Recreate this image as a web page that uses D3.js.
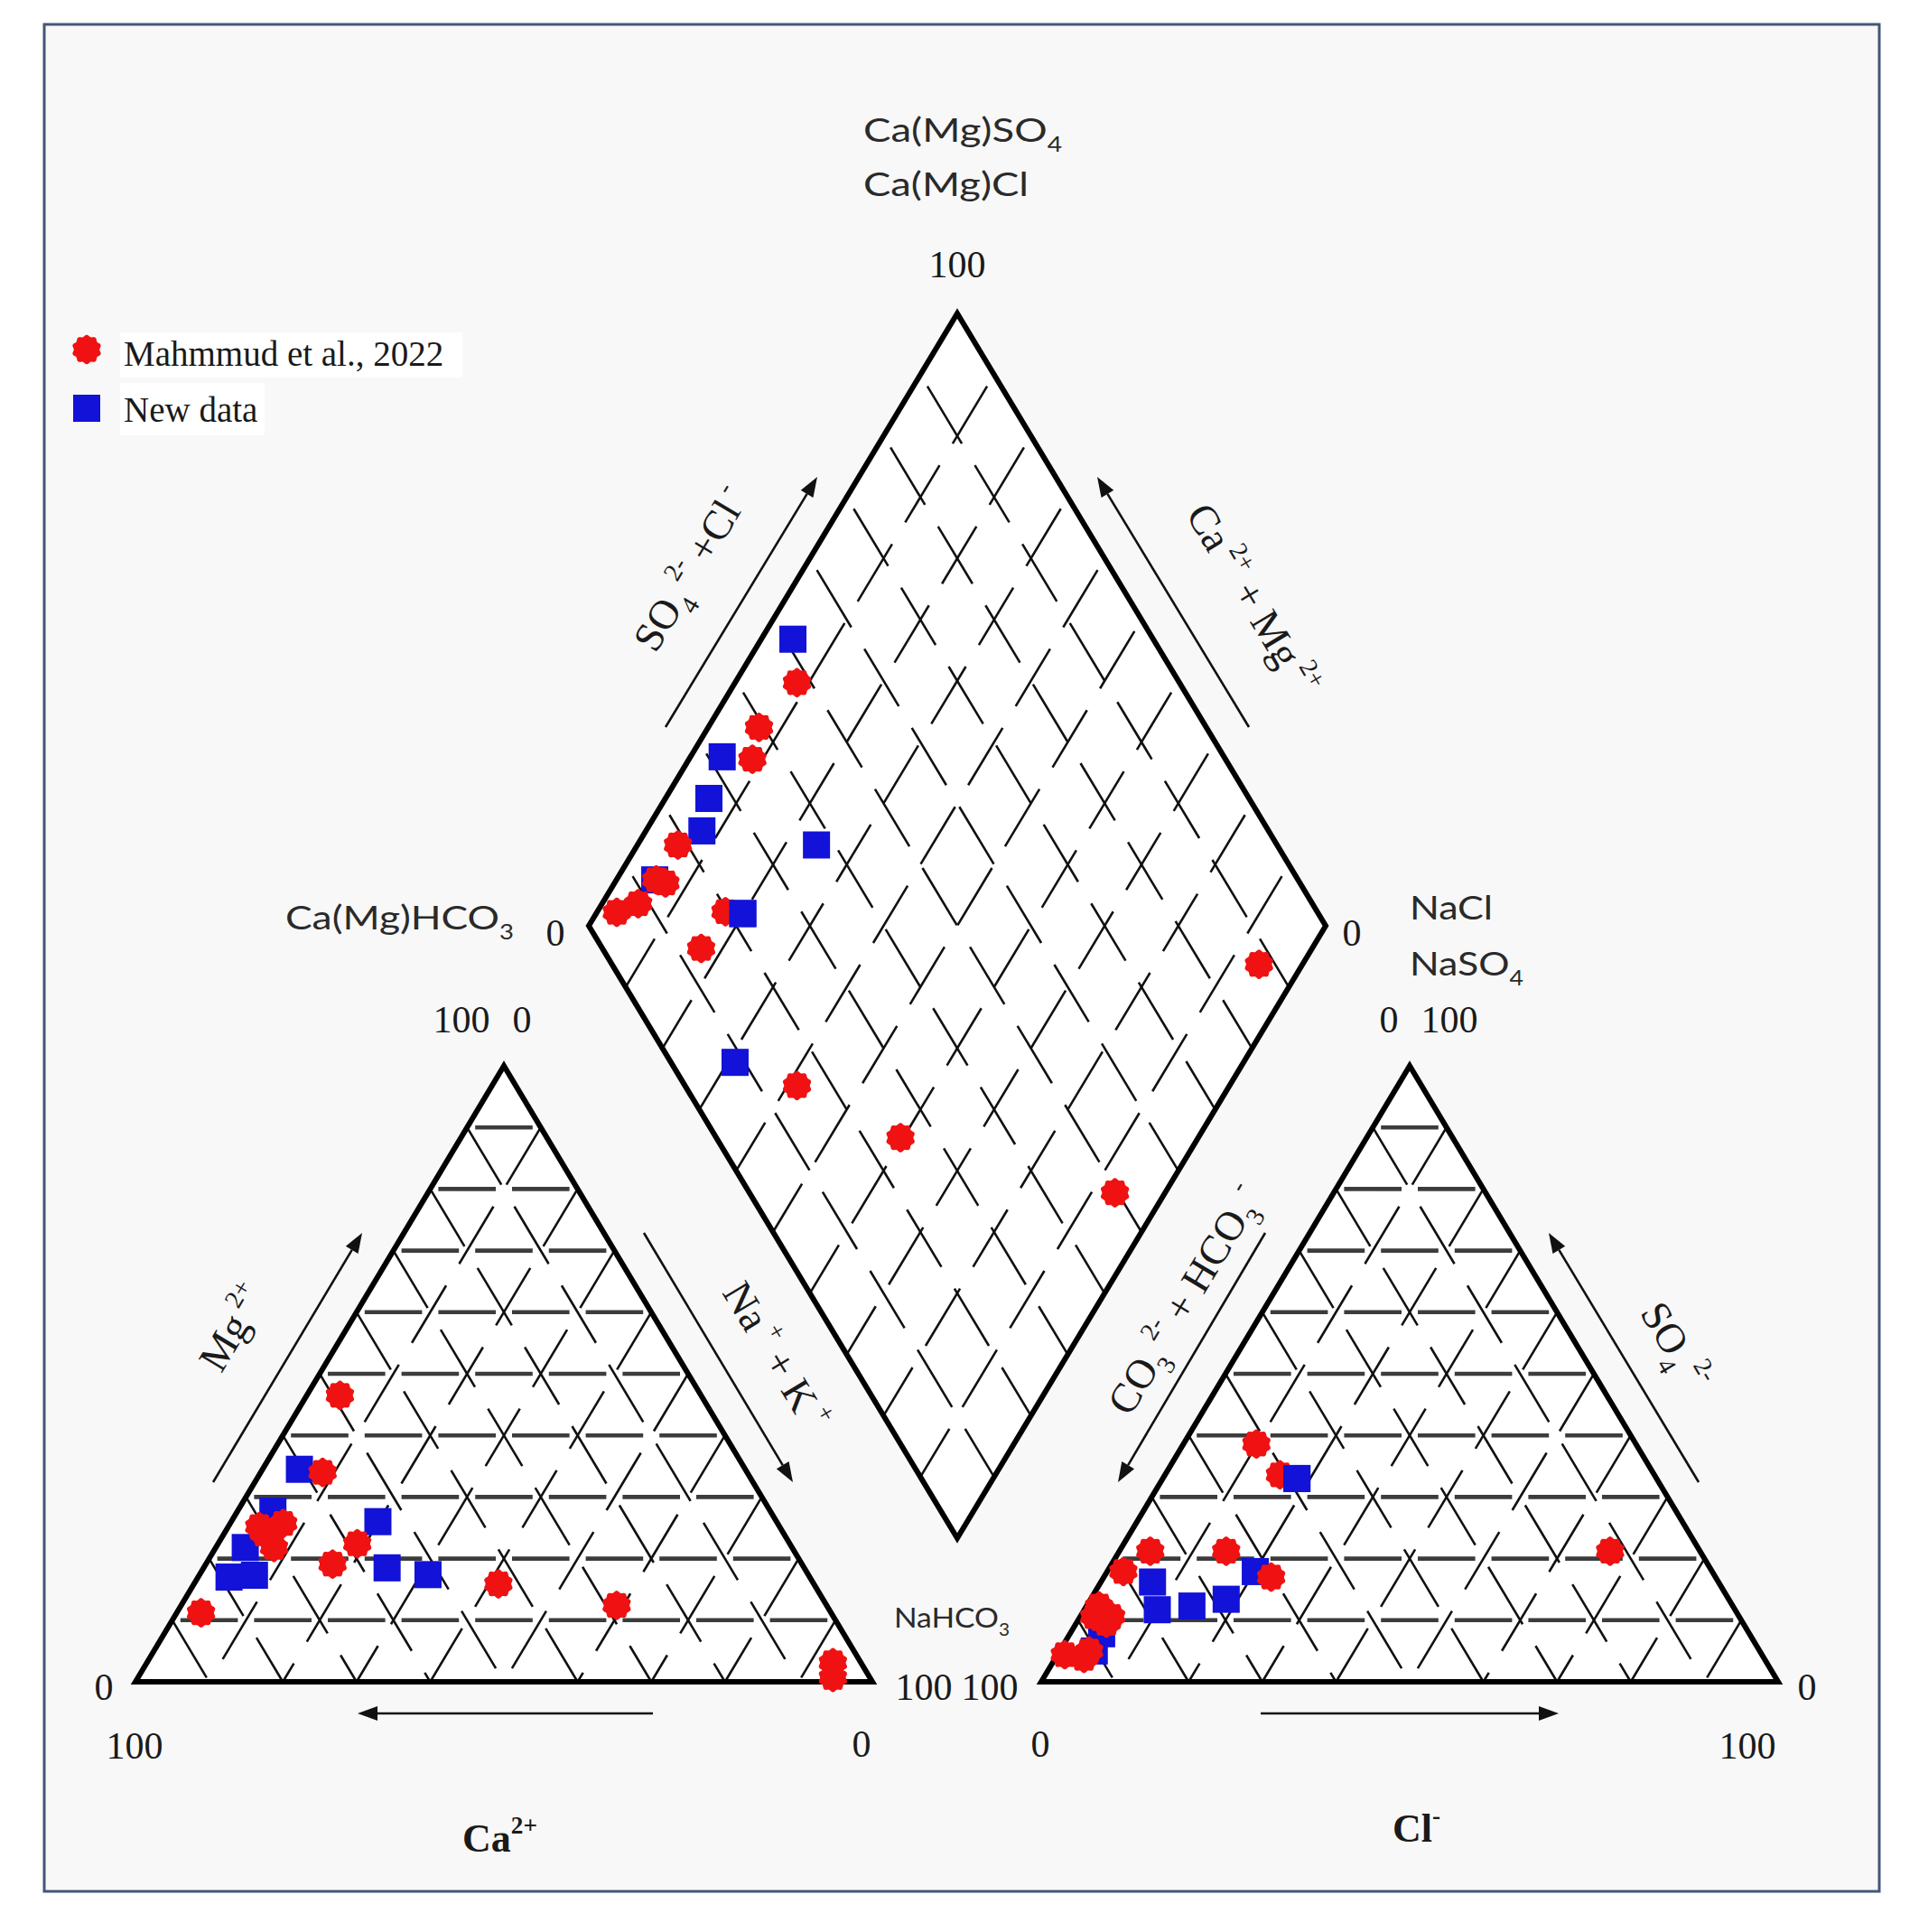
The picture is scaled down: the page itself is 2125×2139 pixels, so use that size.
<!DOCTYPE html>
<html><head><meta charset="utf-8">
<script src="https://cdn.jsdelivr.net/npm/d3@7"></script>
<style>
html,body{margin:0;padding:0;background:#fff;}
svg{display:block;}
</style></head>
<body>
<svg id="chart" width="2125" height="2139"></svg>
<script>
// ================= DATA =================
const seriesNames = ["Mahmmud et al., 2022", "New data"];
const seriesColors = ["#f01212", "#1212d8"];
const gridTicks = [10, 20, 30, 40, 50, 60, 70, 80, 90];

// Cation triangle: [Ca2+, Mg2+, Na+ + K+]  (% meq/L)
const cationsMahmmud = [
  [49.0, 46.5, 4.5], [57.6, 34.0, 8.4], [70.6, 25.2, 4.2], [67.1, 25.7, 7.2],
  [70.3, 21.8, 7.9], [70.5, 24.0, 5.5], [58.7, 22.4, 18.9], [63.7, 19.1, 17.2],
  [42.8, 15.9, 41.3], [28.5, 12.4, 59.1], [85.5, 11.2, 3.3], [3.8, 3.1, 93.1],
  [5.0, 0.7, 94.3]
];
const cationsNew = [
  [60.5, 34.5, 5.0], [67.5, 27.7, 4.8], [54.1, 26.0, 19.9], [74.2, 21.8, 4.0],
  [78.8, 17.0, 4.2], [75.2, 17.3, 7.5], [56.6, 18.5, 24.9], [51.6, 17.4, 31.0]
];

// Anion triangle: [CO3 2- + HCO3-, SO4 2-, Cl-]  (% meq/L)
const anionsMahmmud = [
  [51.5, 38.6, 9.9], [50.8, 33.6, 15.6], [74.6, 21.2, 4.2], [64.3, 21.2, 14.5],
  [79.9, 17.9, 2.2], [60.3, 17.0, 22.7], [12.2, 21.2, 66.6], [86.0, 12.3, 1.7],
  [85.2, 10.6, 4.2], [87.5, 10.6, 1.9], [86.4, 9.5, 4.1], [94.6, 4.4, 1.0],
  [92.3, 3.8, 3.9], [91.0, 5.0, 4.0]
];
const anionsNew = [
  [48.8, 33.0, 18.2], [76.8, 16.2, 7.0], [78.4, 11.7, 9.9], [73.4, 12.3, 14.3],
  [68.2, 13.4, 18.4], [62.0, 17.9, 20.1], [87.9, 7.8, 4.3], [90.3, 5.0, 4.7]
];

// Diamond: [Ca2+ + Mg2+, SO4 2- + Cl-]  (%)
const diamondMahmmud = [
  [91.6, 48.1], [93.1, 39.3], [91.4, 35.8], [94.5, 18.7], [94.6, 12.9], [93.1, 13.9],
  [97.3, 4.9], [95.1, 8.5], [82.9, 13.4], [82.6, 19.7], [58.7, 15.2], [40.4, 25.0],
  [6.8, 49.6], [5.9, 87.8]
];
const diamondNew = [
  [95.7, 51.1], [95.7, 31.9], [94.1, 26.7], [92.4, 23.1], [75.7, 37.5], [94.8, 12.7],
  [80.1, 21.9], [69.0, 8.7]
];
// indices of "New data" points that sit above the red ones in the picture
const anionsNewOnTop = [0];
const diamondNewOnTop = [6];

// ================= LAYOUT =================
const W = 2125, H = 2139;
const catTri = {BL: [150, 1862], BR: [966, 1862], T: [558, 1180]};
const anTri  = {BL: [1153, 1862], BR: [1969, 1862], T: [1561, 1180]};
const dia    = {T: [1060, 347], L: [652, 1025], R: [1468, 1025], B: [1060, 1703]};

const SERIF = "'Liberation Serif','Times New Roman',serif";
const SANS = "Lato,'Open Sans',sans-serif";

const svg = d3.select("#chart");
svg.append("rect").attr("width", W).attr("height", H).attr("fill", "#ffffff");
svg.append("rect").attr("x", 49).attr("y", 27).attr("width", 2032).attr("height", 2067)
  .attr("fill", "#f8f8f8").attr("stroke", "#44567a").attr("stroke-width", 3);

// ternary projection built from linear scales
function ternary(tri) {
  const yS = d3.scaleLinear().domain([0, 100]).range([tri.BL[1], tri.T[1]]);
  const xS = d3.scaleLinear().domain([0, 100]).range([0, tri.BR[0] - tri.BL[0]]);
  return (top, br) => [tri.BL[0] + xS(br) + xS(top) / 2, yS(top)];
}
const catPos = ternary(catTri);  // (Mg, NaK)
const anPos = ternary(anTri);    // (SO4, Cl)

const uS = d3.scaleLinear().domain([100, 0]).range([0, 1]); // SO4+Cl -> toward left vertex
const vS = d3.scaleLinear().domain([100, 0]).range([0, 1]); // Ca+Mg -> toward right vertex
function diaPos(caMg, so4Cl) {
  const u = uS(so4Cl), v = vS(caMg);
  return [dia.T[0] + u * (dia.L[0] - dia.T[0]) + v * (dia.R[0] - dia.T[0]),
          dia.T[1] + u * (dia.L[1] - dia.T[1]) + v * (dia.R[1] - dia.T[1])];
}

const lineGen = d3.line();
const gGrid = svg.append("g");
const gMarks = svg.append("g");
const gText = svg.append("g");

function outline(pts) {
  gGrid.append("path").attr("d", lineGen(pts) + "Z").attr("fill", "#ffffff").attr("stroke", "none");
}
outline([catTri.BL, catTri.T, catTri.BR]);
outline([anTri.BL, anTri.T, anTri.BR]);
outline([dia.T, dia.R, dia.B, dia.L]);

const DIAG_DASH = "74 28";
function diagLine(a, b, off) {
  gGrid.append("path").attr("d", lineGen([a, b])).attr("fill", "none")
    .attr("stroke", "#111").attr("stroke-width", 2.6)
    .attr("stroke-dasharray", DIAG_DASH).attr("stroke-dashoffset", off);
}
function horizLine(a, b, cell) {
  gGrid.append("path").attr("d", lineGen([a, b])).attr("fill", "none")
    .attr("stroke", "#3c3c3c").attr("stroke-width", 4.6)
    .attr("stroke-dasharray", `${cell - 18} 18`).attr("stroke-dashoffset", cell - 9);
}

function triangleGrid(pos, tri) {
  const cell = (tri.BR[0] - tri.BL[0]) / 10;
  gridTicks.forEach(v => {
    horizLine(pos(v, 0), pos(v, 100 - v), cell);
    diagLine(pos(100 - v, 0), pos(0, 100 - v), 0); // parallel to right edge
    diagLine(pos(100 - v, v), pos(0, v), 0);       // parallel to left edge
  });
}
triangleGrid(catPos, catTri);
triangleGrid(anPos, anTri);

gridTicks.forEach(v => {
  diagLine(diaPos(100, 100 - v), diaPos(0, 100 - v), 87);
  diagLine(diaPos(100 - v, 100), diaPos(100 - v, 0), 87);
});

function border(pts) {
  gGrid.append("path").attr("d", lineGen(pts) + "Z").attr("fill", "none")
    .attr("stroke", "#000").attr("stroke-width", 6).attr("stroke-linejoin", "miter");
}
border([catTri.BL, catTri.T, catTri.BR]);
border([anTri.BL, anTri.T, anTri.BR]);
border([dia.T, dia.R, dia.B, dia.L]);

// ---- markers
const gearPts = d3.range(0, 80).map(i => {
  const a = i / 80 * 2 * Math.PI;
  return [a, 15.3 * (1 + 0.07 * Math.cos(10 * a))];
});
const gearPath = d3.lineRadial().angle(d => d[0]).radius(d => d[1]).curve(d3.curveLinearClosed)(gearPts);

function drawRed(pts) {
  gMarks.selectAll(null).data(pts).enter().append("path")
    .attr("d", gearPath).attr("fill", seriesColors[0])
    .attr("transform", d => `translate(${d[0]},${d[1]})`);
}
function drawBlue(pts) {
  gMarks.selectAll(null).data(pts).enter().append("rect")
    .attr("x", d => d[0] - 15).attr("y", d => d[1] - 15)
    .attr("width", 30).attr("height", 30).attr("fill", seriesColors[1]);
}
drawBlue(cationsNew.map(d => catPos(d[1], d[2])));
drawRed(cationsMahmmud.map(d => catPos(d[1], d[2])));
drawBlue(anionsNew.map(d => anPos(d[1], d[2])));
drawRed(anionsMahmmud.map(d => anPos(d[1], d[2])));
drawBlue(anionsNewOnTop.map(i => anPos(anionsNew[i][1], anionsNew[i][2])));
drawBlue(diamondNew.map(d => diaPos(d[0], d[1])));
drawRed(diamondMahmmud.map(d => diaPos(d[0], d[1])));
drawBlue(diamondNewOnTop.map(i => diaPos(diamondNew[i][0], diamondNew[i][1])));

// ---- arrows
function arrow(x1, y1, x2, y2) {
  const ang = Math.atan2(y2 - y1, x2 - x1);
  const hl = 22, hw = 8;
  const bx = x2 - hl * Math.cos(ang), by = y2 - hl * Math.sin(ang);
  gText.append("line").attr("x1", x1).attr("y1", y1).attr("x2", bx).attr("y2", by)
    .attr("stroke", "#111").attr("stroke-width", 2.6);
  gText.append("path").attr("d", lineGen([[x2, y2],
      [bx + hw * Math.sin(ang), by - hw * Math.cos(ang)],
      [bx - hw * Math.sin(ang), by + hw * Math.cos(ang)]]) + "Z").attr("fill", "#111");
}
arrow(737, 805, 905, 528);
arrow(1383, 805, 1215, 528);
arrow(236, 1641, 401, 1365);
arrow(713, 1365, 878, 1641);
arrow(1401, 1365, 1238, 1641);
arrow(1881, 1641, 1715, 1365);
arrow(723, 1897, 396, 1897);
arrow(1396, 1897, 1726, 1897);

// ---- text helpers
function rich(text, parts, size) {
  let shift = 0;
  parts.forEach(p => {
    const target = p.sub ? size * 0.3 : (p.sup ? -size * 0.45 : 0);
    const ts = text.append("tspan").text(p.t).attr("dy", target - shift);
    if (p.sub || p.sup) ts.attr("font-size", size * 0.62);
    shift = target;
  });
}
function label(x, y, parts, o) {
  const t = gText.append("text").attr("x", x).attr("y", y)
    .attr("font-family", o.family || SERIF).attr("font-size", o.size)
    .attr("fill", o.fill || "#1a1a1a").attr("text-anchor", o.anchor || "start")
    .attr("font-weight", o.weight || "normal");
  if (o.width) t.attr("textLength", o.width).attr("lengthAdjust", "spacingAndGlyphs");
  if (o.rot !== undefined) t.attr("transform", `rotate(${o.rot},${x},${y})`).attr("dy", "0.35em");
  rich(t, parts, o.size);
  return t;
}

const sansOpt = (w, s) => ({family: SANS, size: s || 37, fill: "#2a2a2a", width: w});
label(956, 157, [{t: "Ca(Mg)SO"}, {t: "4", sub: true}], sansOpt(220));
label(956, 217, [{t: "Ca(Mg)Cl"}], sansOpt(183));
label(316, 1029, [{t: "Ca(Mg)HCO"}, {t: "3", sub: true}], sansOpt(253));
label(1561, 1018, [{t: "NaCl"}], sansOpt(92));
label(1561, 1080, [{t: "NaSO"}, {t: "4", sub: true}], sansOpt(126));
label(990, 1802, [{t: "NaHCO"}, {t: "3", sub: true}], sansOpt(128, 30));

const numLabels = [
  ["100", 1060, 307], ["0", 615, 1047], ["0", 1497, 1047],
  ["100", 511, 1143], ["0", 578, 1143], ["0", 1538, 1143], ["100", 1605, 1143],
  ["0", 115, 1882], ["100", 149, 1947], ["0", 954, 1945],
  ["100", 1023, 1882], ["100", 1096, 1882],
  ["0", 1152, 1945], ["0", 2001, 1882], ["100", 1935, 1947]
];
numLabels.forEach(d => label(d[1], d[2], [{t: d[0]}], {size: 42, anchor: "middle"}));

const rotOpt = r => ({size: 46, anchor: "middle", rot: r});
label(778, 638, [{t: "SO"}, {t: "4", sub: true}, {t: " 2-", sup: true}, {t: "  +Cl"}, {t: " -", sup: true}], rotOpt(-59));
label(1374, 672, [{t: "Ca"}, {t: "  2+", sup: true}, {t: "  + Mg"}, {t: "  2+", sup: true}], rotOpt(59));
label(271, 1478, [{t: "Mg"}, {t: " 2+", sup: true}], rotOpt(-59));
label(846, 1509, [{t: "Na"}, {t: "  +", sup: true}, {t: "  + K"}, {t: "  +", sup: true}], rotOpt(59));
label(1325, 1447, [{t: "CO"}, {t: "3", sub: true}, {t: "  2-", sup: true}, {t: "  + HCO"}, {t: "3", sub: true}, {t: "  -", sup: true}], rotOpt(-59));
label(1842, 1498, [{t: "SO"}, {t: "4", sub: true}, {t: "  2-", sup: true}], rotOpt(59));

label(512, 2050, [{t: "Ca"}, {t: "2+", sup: true}], {size: 44, weight: "bold"});
label(1542, 2039, [{t: "Cl"}, {t: "-", sup: true}], {size: 44, weight: "bold"});

// ---- legend
const legend = svg.append("g");
legend.append("rect").attr("x", 133).attr("y", 368).attr("width", 379).attr("height", 50).attr("fill", "#fff");
legend.append("rect").attr("x", 133).attr("y", 424).attr("width", 160).attr("height", 58).attr("fill", "#fff");
legend.append("path").attr("d", gearPath).attr("fill", seriesColors[0]).attr("transform", "translate(96,387)");
legend.append("rect").attr("x", 81).attr("y", 437).attr("width", 30).attr("height", 30).attr("fill", seriesColors[1]);
legend.selectAll("text.lg").data(seriesNames).enter().append("text")
  .attr("x", 137).attr("y", (d, i) => 405 + i * 62)
  .attr("font-family", SERIF).attr("font-size", 39).attr("fill", "#1a1a1a").text(d => d);
</script>
</body></html>
